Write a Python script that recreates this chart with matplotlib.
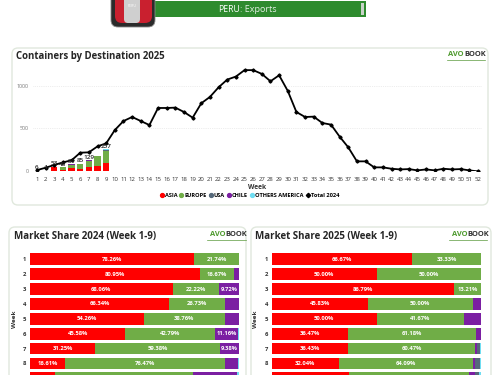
import matplotlib
matplotlib.use('Agg')
import matplotlib.pyplot as plt
from matplotlib.patches import FancyBboxPatch, Rectangle

plt.rcParams['font.family'] = ['Open Sans', 'DejaVu Sans']

# total line, weeks 1-52
weeks = list(range(1, 53))
total_2024 = [15, 43, 75, 105, 130, 218, 222, 292, 327, 482, 587, 634, 587, 540, 739, 739, 743, 692, 626, 794,
              868, 980, 1070, 1105, 1180, 1180, 1136, 1050, 1120, 938, 692, 634, 638, 564, 545, 405, 280, 117, 117, 47,
              47, 31, 23, 27, 12, 23, 12, 31, 23, 27, 12, 0]

# 2025 containers, weeks 1-9
weeks_2025 = [1, 2, 3, 4, 5, 6, 7, 8, 9]
asia_2025 = [4, 2, 46, 22, 42, 31, 47, 58, 95]
europe_2025 = [2, 2, 7, 24, 35, 52, 78, 116, 147]
usa_2025 = [0, 0, 0, 0, 0, 0, 2, 4, 5]
chile_2025 = [0, 0, 0, 2, 7, 2, 1, 2, 8]
others_2025 = [0, 0, 0, 0, 0, 0, 1, 1, 2]
bar_labels = ['6', '4', '53', '48', '84', '85', '129', '', '257']

# market share, rows 1-9
share_rows = [0, 1, 2, 3, 4, 5, 6, 7, 8]
share_ticks = [0, 1, 2, 3, 4, 5, 6, 7]
share_ticklabels = ['1', '2', '3', '4', '5', '6', '7', '8']
asia_24 = [78.26, 80.95, 68.06, 66.34, 54.26, 45.58, 31.25, 16.61, 12.0]
europe_24 = [21.74, 16.67, 22.22, 26.73, 38.76, 42.79, 59.38, 76.47, 66.0]
chile_24 = [0, 2.38, 9.72, 6.93, 6.98, 11.16, 9.38, 6.2, 21.0]
usa_24 = [0, 0, 0, 0, 0, 0, 0, 0, 0]
others_24 = [0, 0, 0, 0, 0, 0.47, 0, 0.72, 1.0]

asia_25 = [66.67, 50.0, 86.79, 45.83, 50.0, 36.47, 36.43, 32.04, 36.9]
europe_25 = [33.33, 50.0, 13.21, 50.0, 41.67, 61.18, 60.47, 64.09, 57.0]
chile_25 = [0, 0, 0, 4.17, 8.33, 2.35, 0.78, 0.9, 2.9]
usa_25 = [0, 0, 0, 0, 0, 0, 1.55, 2.42, 2.0]
others_25 = [0, 0, 0, 0, 0, 0, 0.77, 0.55, 1.2]

RED = '#FF0000'
GREEN = '#70AD47'
GRAY = '#55687A'
PURPLE = '#7B1FA2'
CYAN = '#6FDDF2'
W, H = 500, 375


def box(x0, y0, x1, y1):
    # px coords with y going down
    return [x0 / W, (H - y1) / H, (x1 - x0) / W, (y1 - y0) / H]


def panel(x0, y0, x1, y1):
    bg.add_patch(FancyBboxPatch((x0 + 5, y0 + 5), x1 - x0 - 10, y1 - y0 - 10, boxstyle='round,pad=5,rounding_size=6',
                                fc='white', ec='#E0E8DD', lw=1))


def logo(x0, xm, x1, y):
    bg.text(xm, y, 'AVO', color='#4E9A2E', fontsize=5.4, fontweight='bold', ha='right', va='center')
    bg.text(xm, y, 'BOOK', color='#333333', fontsize=5.4, fontweight='bold', ha='left', va='center')
    bg.plot([x0, x1], [y + 4.5, y + 4.5], color='#5A9A3C', lw=0.5)


fig = plt.figure(figsize=(5, 3.75), dpi=100)
bg = fig.add_axes([0, 0, 1, 1])
bg.set_xlim(0, W)
bg.set_ylim(H, 0)
bg.axis('off')

# header
bg.add_patch(Rectangle((153, 1), 213, 16, fc='#2E8B2E', ec='none'))
bg.add_patch(Rectangle((360.5, 3), 3, 12, fc='#C8D2C8', ec='none'))
bg.text(240, 9.5, 'PERU', color='white', fontsize=6.2, ha='right', va='center')
bg.text(240, 9.5, ': Exports', color='#E4EFE4', fontsize=6.5, ha='left', va='center')
bg.add_patch(FancyBboxPatch((114, -8), 38, 32, boxstyle='round,pad=3,rounding_size=7', fc='#2B2B2B', ec='#888888', lw=0.6))
bg.add_patch(FancyBboxPatch((117, -8), 33, 29, boxstyle='round,pad=2,rounding_size=7', fc='#C9202F', ec='none'))
bg.add_patch(FancyBboxPatch((126, -8), 12, 29, boxstyle='round,pad=2,rounding_size=4', fc='#CFCFCF', ec='none'))
bg.text(132.5, 6, 'PERU', color='white', fontsize=2.5, ha='center', va='center')

# panels
panel(12, 48, 488, 205)
panel(9, 227, 246, 385)
panel(251, 227, 491, 385)
bg.text(16, 57, 'Containers by Destination 2025', fontsize=6.9, fontweight='bold', color='#262626', va='center')
bg.text(13.5, 236.5, 'Market Share 2024 (Week 1-9)', fontsize=7, fontweight='bold', color='#262626', va='center')
bg.text(255, 236.5, 'Market Share 2025 (Week 1-9)', fontsize=7, fontweight='bold', color='#262626', va='center')
logo(447, 464, 485, 55)
logo(207, 225, 246, 235)
logo(449, 467, 487, 235)

# top chart
ax = fig.add_axes(box(32.7, 60, 482.3, 171.4))
ax.patch.set_alpha(0)
bottom = [0] * 9
for vals, col in [(asia_2025, RED), (europe_2025, GREEN), (usa_2025, GRAY), (chile_2025, PURPLE), (others_2025, CYAN)]:
    ax.bar(weeks_2025, vals, 0.72, bottom=bottom, color=col, zorder=2)
    bottom = [a + b for a, b in zip(bottom, vals)]
ax.plot(weeks, total_2024, color='black', lw=1.3, marker='D', ms=1.6, zorder=3)
for wk, top, txt in zip(weeks_2025, bottom, bar_labels):
    ax.text(wk, top + 8, txt, fontsize=4.6, fontweight='semibold', ha='center', va='bottom', color='#222222', zorder=4)
ax.set_xlim(0.5, 52.5)
ax.set_ylim(0, 1298)
ax.set_yticks([0, 500, 1000])
ax.set_xticks(weeks)
ax.tick_params(length=0, labelsize=4.3, colors='#333333', pad=4)
ax.tick_params(axis='y', labelsize=3.8, colors='#777777', pad=3)
ax.grid(axis='y', color='#DDDDDD', lw=0.5, ls=':')
ax.set_axisbelow(True)
ax.spines[:].set_visible(False)
ax.set_xlabel('Week', fontsize=4.8, fontweight='bold', color='#333333', labelpad=1.5)
handles = [plt.Line2D([], [], color=c, marker='o', ls='', ms=2.8) for c in [RED, GREEN, GRAY, PURPLE, CYAN]]
handles.append(plt.Line2D([], [], color='black', marker='D', ls='', ms=2.2))
leg_labels = ['ASIA', 'EUROPE', 'USA', 'CHILE', 'OTHERS AMERICA', 'Total 2024']
fig.legend(handles, leg_labels, loc='center', bbox_to_anchor=(0.498, (H - 195.7) / H), ncol=6, frameon=False,
           prop={'size': 4.1, 'weight': 'bold'}, columnspacing=0.2, handletextpad=0.05, handlelength=1)


def share_chart(x0, x1, series):
    a = fig.add_axes(box(x0, 251.9, x1, 385.7))
    a.patch.set_alpha(0)
    left = [0] * 9
    for vals, col in zip(series, [RED, GREEN, PURPLE, GRAY, CYAN]):
        a.barh(share_rows, vals, 0.79, left=left, color=col)
        # row 9 falls below the picture edge, no label there
        for i, v in enumerate(vals[:8]):
            if v > 9:
                a.text(left[i] + v / 2, i, f'{v:.2f}%', color='white', fontsize=4.2, fontweight='bold', ha='center',
                       va='center')
        left = [p + v for p, v in zip(left, vals)]
    a.set_xlim(0, 100)
    a.set_ylim(8.5, -0.5)
    a.set_xticks([])
    a.set_yticks(share_ticks, share_ticklabels)
    a.tick_params(length=0, labelsize=4.2, pad=2.5, colors='#333333')
    for lab in a.get_yticklabels():
        lab.set_fontweight('bold')
    a.spines[:].set_visible(False)
    a.set_ylabel('Week', fontsize=4.6, fontweight='bold', color='#333333')
    a.yaxis.set_label_coords(-0.063, 0.5)
    return a


share_chart(30, 239.4, [asia_24, europe_24, chile_24, usa_24, others_24])
share_chart(271.7, 481.4, [asia_25, europe_25, chile_25, usa_25, others_25])

fig.savefig('out.png', dpi=100)
